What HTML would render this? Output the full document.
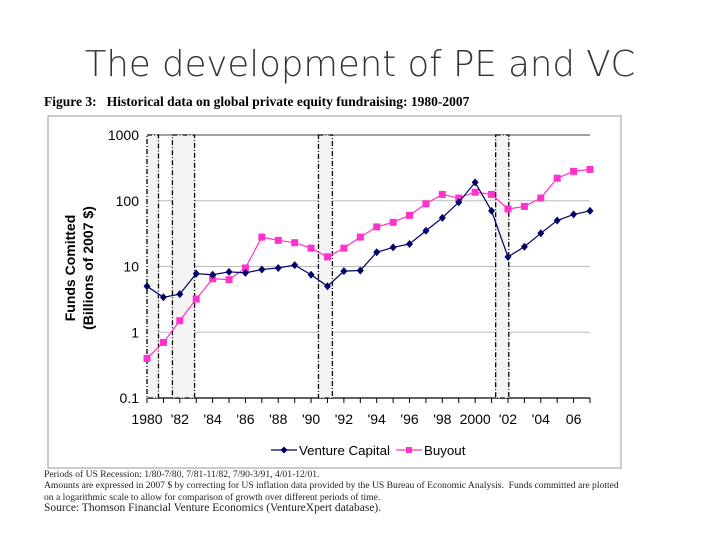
<!DOCTYPE html>
<html><head><meta charset="utf-8"><style>
body{margin:0;width:720px;height:540px;background:#fff;overflow:hidden;position:relative;font-family:"Liberation Sans",sans-serif}
.t{position:absolute}
</style></head><body>
<div class="t" style="left:0;width:720px;top:44px;text-align:center;font-size:35.5px;color:#333;font-family:'DejaVu Sans','Liberation Sans',sans-serif;font-weight:300;letter-spacing:0">The development of PE and VC</div>
<div class="t" style="left:44px;top:94px;font-family:'Liberation Serif',serif;font-weight:bold;font-size:13.5px">Figure 3:&nbsp;&nbsp; Historical data on global private equity fundraising: 1980-2007</div>
<svg class="t" style="left:0;top:0" width="720" height="540">
<rect x="48" y="116" width="573" height="352" fill="none" stroke="#999"/>
<g id="grid"></g><g id="bands"></g><g id="axes"></g><g id="series"></g>
<text x="75" y="268" transform="rotate(-90 75 268)" text-anchor="middle" font-size="14" font-weight="bold">Funds Comitted</text>
<text x="93" y="268" transform="rotate(-90 93 268)" text-anchor="middle" font-size="14" font-weight="bold">(Billions of 2007 $)</text>
<g>
<line x1="271" y1="450" x2="297" y2="450" stroke="#000066" stroke-width="1.3"/>
<polygon points="284,446.5 287.5,450 284,453.5 280.5,450" fill="#000066"/>
<text x="299" y="455" font-size="13.3">Venture Capital</text>
<line x1="396" y1="450" x2="422" y2="450" stroke="#ff33cc" stroke-width="1.3"/>
<rect x="406" y="447" width="6" height="6" fill="#ff33cc"/>
<text x="424" y="455" font-size="13.3">Buyout</text>
</g>
</svg>
<div class="t" style="left:44px;top:469px;font-family:'Liberation Serif',serif;font-size:9.6px;line-height:11.3px;color:#222;width:640px;white-space:nowrap">Periods of US Recession: 1/80-7/80, 7/81-11/82, 7/90-3/91, 4/01-12/01.<br>Amounts are expressed in 2007 $ by correcting for US inflation data provided by the US Bureau of Economic Analysis.&nbsp; Funds committed are plotted<br>on a logarithmic scale to allow for comparison of growth over different periods of time.<br><span style="font-size:11.5px">Source: Thomson Financial Venture Economics (VentureXpert database).</span></div>
<script>
const years=[1980,1981,1982,1983,1984,1985,1986,1987,1988,1989,1990,1991,1992,1993,1994,1995,1996,1997,1998,1999,2000,2001,2002,2003,2004,2005,2006,2007];
const ventureCapital=[5,3.4,3.8,7.8,7.5,8.3,8,9,9.5,10.5,7.5,5,8.5,8.7,16.5,19.5,22,35,55,95,190,70,14,20,32,50,62,70];
const buyout=[0.4,0.7,1.5,3.2,6.5,6.3,9.5,28,25,23,19,14,19,28,40,47,60,90,125,110,135,125,75,82,110,220,280,300];
const yTicks=[0.1,1,10,100,1000];
const yTickLabels=["0.1","1","10","100","1000"];
const xTickYears=[1980,1982,1984,1986,1988,1990,1992,1994,1996,1998,2000,2002,2004,2006];
const xTickLabels=["1980","'82","'84","'86","'88","'90","'92","'94","'96","'98","2000","'02","'04","06"];
const recessionStart=[1980.0,1981.55,1990.45,2001.25];
const recessionEnd=[1980.7,1982.9,1991.3,2002.05];
const NS="http://www.w3.org/2000/svg";
const X0=147,X1=590,Y0=398,Y1=135;
const xs=y=>X0+(y-1980)*(X1-X0)/27;
const ys=v=>Y0-(Math.log10(v)+1)*(Y0-Y1)/4;
function mk(t,a,p){const e=document.createElementNS(NS,t);for(const k in a)e.setAttribute(k,a[k]);p.appendChild(e);return e;}
const grid=document.getElementById('grid'),axes=document.getElementById('axes'),bands=document.getElementById('bands'),ser=document.getElementById('series');
yTicks.forEach((v,i)=>{
 const l=mk('line',{x1:X0,x2:X1,y1:ys(v),y2:ys(v),stroke:i==0?'#000':(i==4?'#444':'#bbb'),'stroke-width':i==0?1.2:1},grid);
 
 
 const t=mk('text',{x:X0-8,y:ys(v)+5,'text-anchor':'end','font-size':14},axes);t.textContent=yTickLabels[i];
 
 
});
years.forEach(y=>{mk('line',{x1:xs(y),x2:xs(y),y1:Y0,y2:Y0+5,stroke:'#000'},axes);});
xTickYears.forEach((y,i)=>{
 const t=mk('text',{x:xs(y),y:Y0+26,'text-anchor':'middle','font-size':14},axes);t.textContent=xTickLabels[i];
 
 
});
recessionStart.forEach((s,i)=>{
 const g=mk('g',{},bands);
 
 
 mk('rect',{x:xs(s),y:Y1,width:xs(recessionEnd[i])-xs(s),height:Y0-Y1,fill:'#f4f4f4'},g);
 mk('rect',{x:xs(s),y:Y1,width:xs(recessionEnd[i])-xs(s),height:Y0-Y1,fill:'none',stroke:'#000','stroke-width':1.3,'stroke-dasharray':'5,2,1,2'},g);
});
function series(vals,col,shape,name){
 const g=mk('g',{},ser);
 
 
 mk('polyline',{points:vals.map((v,i)=>xs(years[i])+','+ys(v)).join(' '),fill:'none',stroke:col,'stroke-width':1.2},g);
 vals.forEach((v,i)=>{const x=xs(years[i]),y=ys(v);
  if(shape=='sq')mk('rect',{x:x-3.5,y:y-3.5,width:7,height:7,fill:col},g);
  else mk('polygon',{points:`${x},${y-4} ${x+3.5},${y} ${x},${y+4} ${x-3.5},${y}`,fill:col},g);});
}
series(buyout,'#ff33cc','sq','buyout-series');
series(ventureCapital,'#000066','dia','venture-capital-series');
</script>
</body></html>
